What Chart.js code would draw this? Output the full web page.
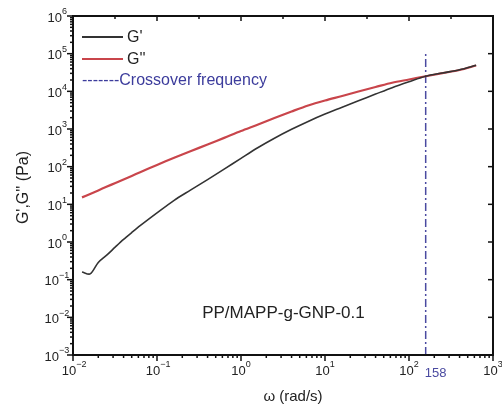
<!DOCTYPE html>
<html>
<head>
<meta charset="utf-8">
<script src="https://cdn.jsdelivr.net/npm/chart.js@4.4.0/dist/chart.umd.min.js"></script>
<style>
  html, body { margin: 0; padding: 0; background: #fff; }
  #wrap { width: 502px; height: 408px; }
</style>
</head>
<body>
<div id="wrap"><canvas id="grafico" width="502" height="408"></canvas></div>
<script>
// frequency (rad/s) and moduli
var omega = [0.0128, 0.016, 0.02, 0.025, 0.032, 0.04, 0.05, 0.063, 0.1, 0.16, 0.25, 0.4, 0.63, 1, 1.6, 2.5, 4, 6.3, 10, 16, 25, 40, 63, 100, 158, 250, 400, 630];
var gLinha = [0.16, 0.142, 0.286, 0.44, 0.74, 1.17, 1.78, 2.71, 5.93, 12.8, 23.8, 45.4, 85.7, 166, 323, 570, 982, 1590, 2490, 3770, 5610, 8450, 12500, 17900, 25100, 30700, 37300, 49100];
var gDuasLinhas = [15.3, 18.9, 23.4, 29.2, 36.9, 45.9, 56.9, 71.0, 111, 172, 256, 388, 581, 885, 1318, 1960, 2917, 4210, 5710, 7520, 9900, 13000, 16900, 20600, 25100, 30300, 36800, 48500];
var crossover = 158;
var crossoverTop = 1.05e5;
var xDecadas = [-2, -1, 0, 1, 2, 3];
var yDecadas = [-3, -2, -1, 0, 1, 2, 3, 4, 5, 6];
var legendaTextos = ["G'", "G''", "-------Crossover frequency"];
var nomeAmostra = 'PP/MAPP-g-GNP-0.1';

function pontos(xs, ys) {
    return xs.map(function (v, i) { return { x: v, y: ys[i] }; });
}

function potencia(ctx, exp, x, y, align) {
    // draws "10" with a raised exponent, x is the anchor
    ctx.font = '13px "Liberation Sans", Arial, sans-serif';
    var wBase = ctx.measureText('10').width;
    ctx.font = '9px "Liberation Sans", Arial, sans-serif';
    var wExp = ctx.measureText(String(exp)).width;
    var total = wBase + wExp;
    var x0 = align === 'right' ? x - total : x - total / 2;
    ctx.textAlign = 'left';
    ctx.textBaseline = 'middle';
    ctx.font = '13px "Liberation Sans", Arial, sans-serif';
    ctx.fillText('10', x0, y);
    ctx.font = '9px "Liberation Sans", Arial, sans-serif';
    ctx.fillText(String(exp).replace('-', '\u2212'), x0 + wBase, y - 6);
}

var eixosPlugin = {
    id: 'eixos',
    afterDraw: function (chart) {
        var ctx = chart.ctx;
        var a = chart.chartArea;
        var sx = chart.scales.x, sy = chart.scales.y;
        ctx.save();
        ctx.strokeStyle = '#111';
        ctx.fillStyle = '#222';

        // ticks
        ctx.lineWidth = 1.5;
        xDecadas.forEach(function (d) {
            for (var m = 1; m < 10; m++) {
                var v = m * Math.pow(10, d);
                if (v > 1000.0001) continue;
                var px = sx.getPixelForValue(v);
                var len = m === 1 ? 6 : 3;
                ctx.beginPath();
                ctx.moveTo(px, a.bottom);
                ctx.lineTo(px, a.bottom + len);
                ctx.stroke();
            }
            // top axis: decade + half decade, inward
            var pt = sx.getPixelForValue(Math.pow(10, d));
            ctx.beginPath(); ctx.moveTo(pt, a.top); ctx.lineTo(pt, a.top + 5); ctx.stroke();
            if (d < 3) {
                var ph = sx.getPixelForValue(Math.pow(10, d + 0.5));
                ctx.beginPath(); ctx.moveTo(ph, a.top); ctx.lineTo(ph, a.top + 3); ctx.stroke();
            }
        });
        yDecadas.forEach(function (d) {
            for (var m = 1; m < 10; m++) {
                var v = m * Math.pow(10, d);
                if (v > 1e6 * 1.0001) continue;
                var py = sy.getPixelForValue(v);
                var len = m === 1 ? 6 : 3;
                ctx.beginPath();
                ctx.moveTo(a.left, py);
                ctx.lineTo(a.left - len, py);
                ctx.stroke();
            }
            var pr = sy.getPixelForValue(Math.pow(10, d));
            ctx.beginPath(); ctx.moveTo(a.right, pr); ctx.lineTo(a.right - 5, pr); ctx.stroke();
        });

        // frame
        ctx.lineWidth = 2;
        ctx.strokeRect(a.left, a.top, a.right - a.left, a.bottom - a.top);

        // tick labels
        xDecadas.forEach(function (d) {
            potencia(ctx, d, sx.getPixelForValue(Math.pow(10, d)), a.bottom + 16, 'center');
        });
        yDecadas.forEach(function (d) {
            potencia(ctx, d, a.left - 6, sy.getPixelForValue(Math.pow(10, d)) + 2, 'right');
        });

        // crossover value
        ctx.fillStyle = '#4a4aa0';
        ctx.font = '13px "Liberation Sans", Arial, sans-serif';
        ctx.textAlign = 'left';
        ctx.textBaseline = 'middle';
        ctx.fillText(String(crossover), sx.getPixelForValue(crossover) - 1, a.bottom + 18);

        // axis titles
        ctx.fillStyle = '#222';
        ctx.font = '15px "Liberation Sans", Arial, sans-serif';
        ctx.textAlign = 'center';
        ctx.fillText('\u03c9 (rad/s)', (a.left + a.right) / 2 + 10, a.bottom + 42);
        ctx.save();
        ctx.translate(24, (a.top + a.bottom) / 2 + 2);
        ctx.rotate(-Math.PI / 2);
        ctx.font = '16px "Liberation Sans", Arial, sans-serif';
        ctx.fillText("G',G'' (Pa)", 0, 0);
        ctx.restore();

        // sample name
        ctx.font = '17px "Liberation Sans", Arial, sans-serif';
        ctx.fillStyle = '#222';
        ctx.fillText(nomeAmostra, sx.getPixelForValue(3.2), sy.getPixelForValue(0.0125));

        // legend
        var lx = a.left + 9, ly = a.top + 21;
        ctx.lineWidth = 2;
        ctx.strokeStyle = '#333';
        ctx.beginPath(); ctx.moveTo(lx, ly); ctx.lineTo(lx + 41, ly); ctx.stroke();
        ctx.strokeStyle = '#c9454b';
        ctx.beginPath(); ctx.moveTo(lx, ly + 22); ctx.lineTo(lx + 41, ly + 22); ctx.stroke();
        ctx.textAlign = 'left';
        ctx.font = '16px "Liberation Sans", Arial, sans-serif';
        ctx.fillStyle = '#222';
        ctx.fillText(legendaTextos[0], lx + 45, ly + 1);
        ctx.fillText(legendaTextos[1], lx + 45, ly + 23);
        ctx.fillStyle = '#3c3c9c';
        ctx.fillText(legendaTextos[2], lx, ly + 44);
        ctx.restore();
    }
};

var ctx = document.getElementById('grafico').getContext('2d');
var grafico = new Chart(ctx, {
    type: 'line',
    data: {
        datasets: [{
            label: "G'",
            data: pontos(omega, gLinha),
            borderColor: '#333333',
            borderWidth: 1.6,
            pointRadius: 0,
            tension: 0.3
        }, {
            label: "G''",
            data: pontos(omega, gDuasLinhas),
            borderColor: '#c9454b',
            borderWidth: 2.2,
            pointRadius: 0,
            tension: 0.3
        }, {
            label: 'Crossover frequency',
            data: [{ x: crossover, y: 1e-3 }, { x: crossover, y: crossoverTop }],
            borderColor: '#4a4aa0',
            borderWidth: 1.5,
            borderDash: [8, 3, 2, 3],
            pointRadius: 0
        }]
    },
    options: {
        responsive: false,
        animation: false,
        layout: { padding: { left: 73, right: 9, top: 16, bottom: 53 } },
        plugins: {
            legend: { display: false },
            tooltip: { enabled: false }
        },
        scales: {
            x: { type: 'logarithmic', min: 0.01, max: 1000, display: false },
            y: { type: 'logarithmic', min: 1e-3, max: 1e6, display: false }
        }
    },
    plugins: [eixosPlugin]
});
</script>
</body>
</html>
